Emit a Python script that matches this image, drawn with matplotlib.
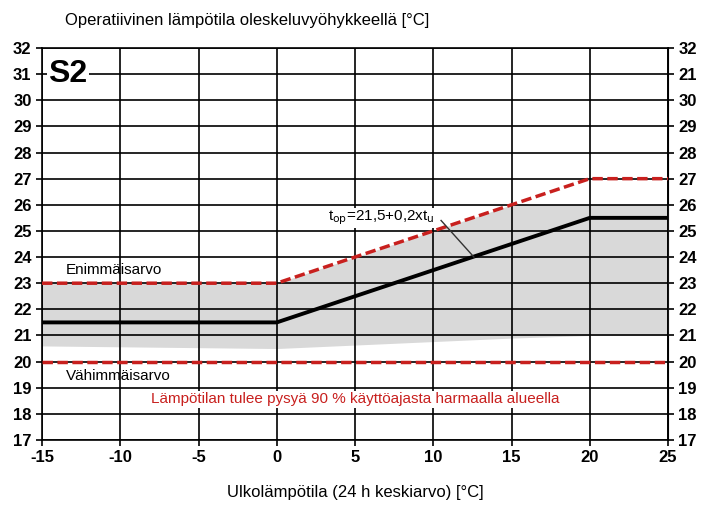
import matplotlib
matplotlib.use("Agg")
import matplotlib.pyplot as plt
plt.rcParams["font.family"] = "Liberation Sans"
plt.rcParams["axes.unicode_minus"] = False

x_ticks = [-15, -10, -5, 0, 5, 10, 15, 20, 25]
y_ticks = list(range(17, 33))
right_labels = ["17","18","19","20","21","22","23","24","25","26","27","28","29","30","21","32"]
band_x = [-15, 0, 15, 20, 25]
band_upper = [23, 23, 26, 26, 26]
band_lower = [20.6, 20.5, 20.9, 21.0, 21.0]
max_x = [-15, 0, 20, 25]
max_y = [23, 23, 27, 27]
min_x = [-15, 25]
min_y = [20, 20]
op_x = [-15, 0, 20, 25]
op_y = [21.5, 21.5, 25.5, 25.5]

fig = plt.figure(figsize=(7.12, 5.09), dpi=100)
ax = fig.add_axes([42/712, 1-440/509, 626/712, 392/509])
ax.set_xlim(-15, 25)
ax.set_ylim(17, 32)
ax.fill_between(band_x, band_lower, band_upper, color="#d9d9d9", lw=0, zorder=1)
for v in x_ticks:
    ax.axvline(v, color="black", lw=1.2, zorder=2)
for v in y_ticks:
    ax.axhline(v, color="black", lw=1.2, zorder=2)
ax.plot(op_x, op_y, color="black", lw=2.8, zorder=4)
ax.plot(max_x, max_y, color="#c8201e", lw=2.5, ls=(0, (3, 1.3)), zorder=5)
ax.plot(min_x, min_y, color="#c8201e", lw=2.5, ls=(0, (3, 1.3)), zorder=5)
ax.set_xticks(x_ticks)
ax.set_yticks(y_ticks)
ax.tick_params(labelsize=12, length=4, width=1.2)
ax.set_yticklabels([str(v) for v in y_ticks])
for lab in ax.get_xticklabels() + ax.get_yticklabels():
    lab.set_fontweight("bold")
secax = ax.secondary_yaxis("right")
secax.set_yticks(y_ticks)
secax.set_yticklabels(right_labels, fontsize=12, fontweight="bold")
secax.tick_params(length=4, width=1.2)
for s in ax.spines.values():
    s.set_linewidth(1.2)

ax.text(-14.6, 31, "S2", fontsize=23, fontweight="bold", va="center", ha="left",
        bbox=dict(facecolor="white", edgecolor="none", pad=1), zorder=6)
ax.text(-13.5, 23.5, "Enimmäisarvo", fontsize=11, va="center", zorder=6)
ax.text(-13.5, 19.45, "Vähimmäisarvo", fontsize=11, va="center", zorder=6)
ax.text(5, 18.55, "Lämpötilan tulee pysyä 90 % käyttöajasta harmaalla alueella",
        fontsize=11, color="#c8201e", ha="center", va="center", zorder=6,
        bbox=dict(facecolor="white", edgecolor="none", pad=1))
ax.text(3.3, 25.5, "t$_{\\rm op}$=21,5+0,2xt$_{\\rm u}$", fontsize=11, va="center", zorder=6,
        bbox=dict(facecolor="white", edgecolor="none", pad=0.5))
ax.plot([10.5, 12.6], [25.4, 24.0], color="#333333", lw=1, zorder=6)

fig.text(65/712, 1-20/509, "Operatiivinen lämpötila oleskeluvyöhykkeellä [°C]", fontsize=12, ha="left", va="center")
fig.text(355/712, 1-492/509, "Ulkolämpötila (24 h keskiarvo) [°C]", fontsize=12, ha="center", va="center")
fig.savefig("out.png", dpi=100)
